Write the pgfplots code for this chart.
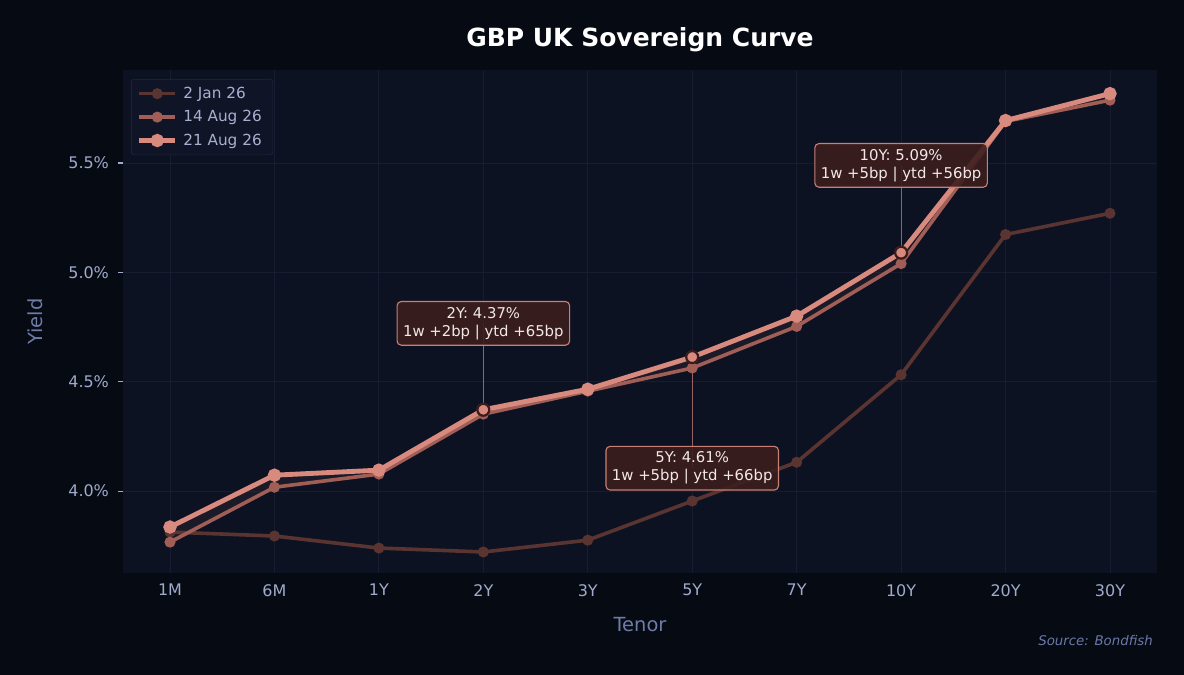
\documentclass[border=0pt]{standalone}
\usepackage{fontspec}
\setmainfont{DejaVu Sans}
\usepackage{pgfplots}
\pgfplotsset{compat=1.18}
\definecolor{figbg}{HTML}{060A12}
\definecolor{axbg}{HTML}{0D1222}
\definecolor{gridc}{HTML}{171C31}
\definecolor{tickc}{HTML}{A0AACC}
\definecolor{ticklab}{HTML}{A0AACC}
\definecolor{labc}{HTML}{6E7CA8}
\definecolor{legbg}{HTML}{0F1426}
\definecolor{legdraw}{HTML}{222840}
\definecolor{legtext}{HTML}{A8B0D2}
\definecolor{cA}{HTML}{5A3430}
\definecolor{cB}{HTML}{A05E56}
\definecolor{cC}{HTML}{D98A7E}
\definecolor{boxfill}{HTML}{3C1E1E}
\definecolor{boxdraw}{HTML}{C87F74}
\definecolor{boxtext}{HTML}{F2E8E8}
\definecolor{conn}{HTML}{9A6262}
\definecolor{hiedge}{HTML}{3A1C1C}
\definecolor{srcc}{HTML}{6A78A8}

\pgfplotstableread{
x y
0 3.813
1 3.795
2 3.740
3 3.722
4 3.776
5 3.955
6 4.132
7 4.532
8 5.173
9 5.270
}\janT

\pgfplotstableread{
x y
0 3.767
1 4.018
2 4.078
3 4.352
4 4.457
5 4.563
6 4.753
7 5.040
8 5.690
9 5.787
}\augAT

\pgfplotstableread{
x y
0 3.836
1 4.073
2 4.096
3 4.372
4 4.466
5 4.613
6 4.800
7 5.090
8 5.694
9 5.817
}\augBT

\begin{document}
\begin{tikzpicture}
\fill[figbg] (0pt,0pt) rectangle (852.48pt,486pt);
\node[text=white, font=\bfseries\fontsize{18}{21}\selectfont] at (460.8pt,457.2pt) {GBP UK Sovereign Curve};
\node[text=srcc, font=\itshape\fontsize{9.6}{11}\selectfont, anchor=east, inner sep=0pt] at (830.2pt,24.5pt) {Source: Bondfish};
\begin{axis}[
  at={(88.56pt,73.44pt)}, anchor=south west,
  scale only axis, width=744.48pt, height=362.16pt,
  xmin=-0.45, xmax=9.45, ymin=3.626, ymax=5.925,
  xtick={0,...,9},
  xticklabels={1M,6M,1Y,2Y,3Y,5Y,7Y,10Y,20Y,30Y},
  ytick={4.0,4.5,5.0,5.5},
  yticklabels={4.0\%,4.5\%,5.0\%,5.5\%},
  ytick pos=left, xtick pos=bottom,
  axis background/.style={fill=axbg},
  axis line style={draw=none},
  grid=major,
  major grid style={draw=gridc, line width=0.6pt},
  tick align=outside,
  major tick length=3.6pt,
  xtick style={draw=none},
  ytick style={draw=tickc, line width=0.8pt},
  tick label style={font=\fontsize{11.5}{13}\selectfont, text=ticklab},
  xticklabel style={yshift=-1pt},
  yticklabel style={xshift=-3pt},
  xlabel={Tenor}, ylabel={Yield},
  label style={font=\fontsize{14}{16}\selectfont, text=labc},
  xlabel style={at={(axis description cs:0.5,-0.1034)}, anchor=center},
  ylabel style={at={(axis description cs:-0.0851,0.5)}, anchor=center},
  legend style={at={(0.0077,0.982)}, anchor=north west, fill=legbg, draw=legdraw,
    rounded corners=2pt, text=legtext, font=\fontsize{11}{13}\selectfont,
    row sep=3.2pt, inner xsep=4pt, inner ysep=3.5pt,
    nodes={inner xsep=4pt}},
  legend cell align=left,
  legend image code/.code={
    \draw[mark repeat=2,mark phase=2,#1] plot coordinates {(0pt,0pt) (13pt,0pt) (26pt,0pt)};
  },
]
\addplot[fill=cC, fill opacity=0.07, draw=none, forget plot] coordinates {
 (0,3.836) (1,4.073) (2,4.096) (3,4.372) (4,4.466) (5,4.613) (6,4.800) (7,5.090) (8,5.694) (9,5.817)
 (9,5.787) (8,5.690) (7,5.040) (6,4.753) (5,4.563) (4,4.457) (3,4.352) (2,4.078) (1,4.018) (0,3.767)} \closedcycle;
\addplot[cA, line width=2.6pt, mark=*, mark size=2.6pt] table[x=x,y=y] {\janT};
\addlegendentry{2 Jan 26}
\addplot[cB, line width=2.6pt, mark=*, mark size=2.6pt] table[x=x,y=y] {\augAT};
\addlegendentry{14 Aug 26}
\addplot[cC, line width=3.5pt, mark=*, mark size=3pt] table[x=x,y=y] {\augBT};
\addlegendentry{21 Aug 26}
% connectors
\draw[conn, line width=0.8pt] (axis cs:3,4.372) -- (axis cs:3,4.767);
\draw[conn, line width=0.8pt] (axis cs:5,4.613) -- (axis cs:5,4.105);
\draw[conn, line width=0.8pt] (axis cs:7,5.090) -- (axis cs:7,5.489);
\addplot[only marks, mark=*, mark size=4.3pt, mark options={fill=cC, draw=hiedge, line width=1.6pt}, forget plot]
  coordinates {(3,4.372) (5,4.613) (7,5.090)};
\node[fill=boxfill, fill opacity=0.9, text opacity=1, draw=boxdraw, line width=0.8pt,
  rounded corners=3pt, text=boxtext, align=center, font=\fontsize{10.7}{13}\selectfont,
  inner xsep=4.3pt, inner ysep=4pt] at (axis cs:3,4.767) {2Y: 4.37\%\\1w +2bp | ytd +65bp};
\node[fill=boxfill, fill opacity=0.9, text opacity=1, draw=boxdraw, line width=0.8pt,
  rounded corners=3pt, text=boxtext, align=center, font=\fontsize{10.7}{13}\selectfont,
  inner xsep=4.3pt, inner ysep=4pt] at (axis cs:5,4.105) {5Y: 4.61\%\\1w +5bp | ytd +66bp};
\node[fill=boxfill, fill opacity=0.9, text opacity=1, draw=boxdraw, line width=0.8pt,
  rounded corners=3pt, text=boxtext, align=center, font=\fontsize{10.7}{13}\selectfont,
  inner xsep=4.3pt, inner ysep=4pt] at (axis cs:7,5.489) {10Y: 5.09\%\\1w +5bp | ytd +56bp};
\end{axis}
\end{tikzpicture}
\end{document}
